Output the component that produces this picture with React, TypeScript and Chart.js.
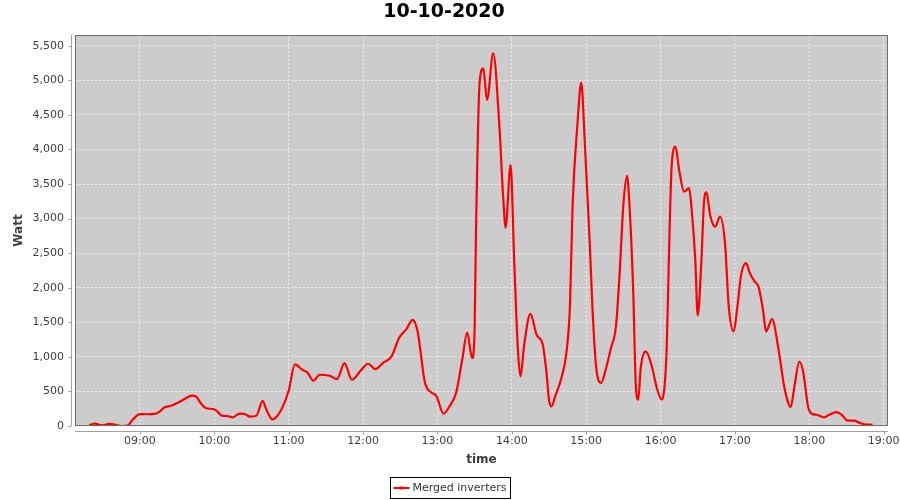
import React, { useEffect, useRef } from "react";
import { Chart, registerables } from "chart.js";

Chart.register(...registerables);

const chartTitle = "10-10-2020";
const seriesLabel = "Merged inverters";
const xAxisTitle = "time";
const yAxisTitle = "Watt";

const times = [
  "08:19", "08:24", "08:29", "08:35", "08:41", "08:45", "08:50", "08:54", "09:00", "09:05",
  "09:12", "09:16", "09:20", "09:25", "09:31", "09:36", "09:42", "09:45", "09:49", "09:53",
  "09:59", "10:02", "10:06", "10:10", "10:15", "10:20", "10:24", "10:29", "10:34", "10:39",
  "10:42", "10:47", "10:50", "10:54", "11:00", "11:05", "11:11", "11:15", "11:20", "11:25",
  "11:33", "11:39", "11:45", "11:51", "11:58", "12:04", "12:10", "12:16", "12:23", "12:29",
  "12:35", "12:40", "12:44", "12:50", "12:55", "12:59", "13:05", "13:10", "13:15", "13:20",
  "13:24", "13:28", "13:30", "13:31", "13:34", "13:37", "13:40", "13:45", "13:50", "13:53",
  "13:55", "13:59", "14:02", "14:05", "14:07", "14:10", "14:15", "14:20", "14:25", "14:28",
  "14:30", "14:32", "14:35", "14:40", "14:44", "14:47", "14:49", "14:53", "14:56", "14:59",
  "15:03", "15:05", "15:08", "15:12", "15:15", "15:20", "15:24", "15:27", "15:30", "15:33",
  "15:35", "15:38", "15:40", "15:42", "15:44", "15:48", "15:53", "15:57", "16:01", "16:05",
  "16:07", "16:09", "16:12", "16:15", "16:19", "16:23", "16:25", "16:28", "16:30", "16:33",
  "16:35", "16:37", "16:40", "16:44", "16:48", "16:52", "16:55", "16:59", "17:02", "17:05",
  "17:09", "17:12", "17:16", "17:19", "17:23", "17:25", "17:30", "17:35", "17:40", "17:45",
  "17:48", "17:52", "17:55", "17:59", "18:02", "18:06", "18:12", "18:16", "18:22", "18:26",
  "18:31", "18:36", "18:41", "18:46", "18:51",
];

const watts = [
  15, 33, 8, 30, 15, 0, 5, 90, 173, 170,
  175, 210, 270, 293, 341, 390, 438, 430, 332, 260,
  245, 220, 149, 145, 125, 178, 175, 135, 150, 365,
  235, 95, 130, 235, 510, 890, 813, 775, 655, 741,
  727, 679, 910, 669, 799, 900, 823, 910, 1006, 1272,
  1401, 1536, 1367, 621, 486, 438, 178, 293, 477, 958,
  1352, 982, 1391, 2700, 4960, 5173, 4715, 5390, 4329, 3318,
  2870, 3776, 2355, 1078, 717, 1175, 1623, 1319, 1175, 766,
  380, 283, 428, 694, 1055, 1777, 3173, 4378, 4965, 4065,
  2595, 1728, 861, 621, 766, 1127, 1439, 2211, 3198, 3617,
  3173, 1922, 597, 380, 838, 1078, 861, 549, 380, 1150,
  2644, 3776, 4040, 3704, 3390, 3439, 3150, 2403, 1600, 2403,
  3222, 3380, 3053, 2880, 3029, 2644, 1728, 1367, 1728, 2186,
  2355, 2211, 2089, 2017, 1633, 1367, 1546, 1127, 549, 275,
  572, 933, 789, 283, 178, 163, 124, 163, 202, 163,
  77, 77, 43, 19, 19,
];

const xTickLabels = ["09:00", "10:00", "11:00", "12:00", "13:00", "14:00", "15:00", "16:00", "17:00", "18:00", "19:00"];
const yTickValues = [0, 500, 1000, 1500, 2000, 2500, 3000, 3500, 4000, 4500, 5000, 5500];

const xMinLabel = "08:07.6";
const xMaxLabel = "19:03.5";
const yMin = 0;
const yMax = 5655;

function toMin(s: string): number {
  const [h, m] = s.split(":");
  return parseInt(h, 10) * 60 + parseFloat(m);
}

function fmtMin(v: number): string {
  const h = Math.floor(v / 60);
  const m = Math.round(v - h * 60);
  return String(h).padStart(2, "0") + ":" + String(m).padStart(2, "0");
}

const FONT = "'DejaVu Sans', sans-serif";

const framePlugin = {
  id: "frame",
  beforeDraw(chart: any) {
    const { ctx, chartArea: a } = chart;
    ctx.save();
    ctx.fillStyle = "#cccccc";
    ctx.fillRect(a.left, a.top, a.right - a.left, a.bottom - a.top);
    ctx.restore();
  },
  afterDatasetsDraw(chart: any) {
    const { ctx, chartArea: a } = chart;
    const xs = chart.scales.x;
    const ys = chart.scales.y;
    ctx.save();
    ctx.strokeStyle = "#6e6e6e";
    ctx.lineWidth = 1;
    ctx.strokeRect(Math.round(a.left) + 0.5, Math.round(a.top) + 0.5, Math.round(a.right - a.left) - 1, Math.round(a.bottom - a.top) - 1);
    ctx.strokeStyle = "#a0a0a0";
    const yAxisX = Math.round(a.left) - 4 + 0.5;
    const xAxisY = Math.round(a.bottom) + 5 + 0.5;
    ctx.beginPath();
    ctx.moveTo(yAxisX, a.top);
    ctx.lineTo(yAxisX, a.bottom);
    ctx.moveTo(a.left, xAxisY);
    ctx.lineTo(a.right, xAxisY);
    ys.ticks.forEach((t: any) => {
      const py = Math.round(ys.getPixelForValue(t.value)) + 0.5;
      ctx.moveTo(yAxisX - 3, py);
      ctx.lineTo(yAxisX, py);
    });
    xs.ticks.forEach((t: any) => {
      const px = Math.round(xs.getPixelForValue(t.value)) + 0.5;
      ctx.moveTo(px, xAxisY);
      ctx.lineTo(px, xAxisY + 3);
    });
    ctx.stroke();
    ctx.restore();
  },
  afterDraw(chart: any) {
    const { ctx, width } = chart;
    const ds = chart.data.datasets[0];
    ctx.save();
    ctx.font = "11px " + FONT;
    const tw = ctx.measureText(ds.label).width;
    const boxW = Math.round(3 + 16 + 3 + tw + 4);
    const boxH = 21;
    const left = Math.round(width / 2 - boxW / 2) + 0.5;
    const top = 477.5;
    ctx.strokeStyle = "#000000";
    ctx.lineWidth = 1;
    ctx.strokeRect(left, top, boxW, boxH);
    const cy = top + boxH / 2;
    ctx.strokeStyle = ds.borderColor;
    ctx.lineWidth = 2;
    ctx.beginPath();
    ctx.moveTo(left + 3, cy);
    ctx.lineTo(left + 19, cy);
    ctx.stroke();
    ctx.fillStyle = ds.borderColor;
    ctx.fillRect(left + 9.5, cy - 1.5, 3, 3);
    ctx.fillStyle = "#333333";
    ctx.textBaseline = "middle";
    ctx.textAlign = "left";
    ctx.fillText(ds.label, left + 22, cy + 0.5);
    ctx.restore();
  },
};

export default function App() {
  const canvasRef = useRef<HTMLCanvasElement | null>(null);

  useEffect(() => {
    document.body.style.margin = "0";
    const canvas = canvasRef.current;
    if (!canvas) return;
    Chart.defaults.font.family = FONT;
    const points = times.map((t, i) => ({ x: toMin(t), y: watts[i] }));
    const chart = new Chart(canvas, {
      type: "line",
      data: {
        datasets: [
          {
            label: seriesLabel,
            data: points,
            borderColor: "#ff0000",
            backgroundColor: "#ff0000",
            borderWidth: 2.2,
            pointRadius: 0,
            fill: false,
            tension: 0.4,
            cubicInterpolationMode: "monotone",
          },
        ],
      },
      options: {
        animation: false,
        responsive: false,
        maintainAspectRatio: false,
        layout: { padding: { left: 0, right: 12, top: 0, bottom: 30 } },
        plugins: {
          legend: { display: false },
          tooltip: { enabled: false },
          title: {
            display: true,
            text: chartTitle,
            color: "#000000",
            font: { size: 19, weight: "bold", family: FONT },
            padding: { top: 0.8, bottom: 11.4 },
          },
        },
        scales: {
          x: {
            type: "linear",
            min: toMin(xMinLabel),
            max: toMin(xMaxLabel),
            afterBuildTicks: (s: any) => {
              s.ticks = xTickLabels.map((l) => ({ value: toMin(l) }));
            },
            afterFit: (s: any) => {
              s.height = 44;
              s.paddingLeft = 0;
              s.paddingRight = 0;
            },
            grid: { color: "#ececec", lineWidth: 1, drawTicks: false },
            border: { display: false, dash: [2, 2] },
            ticks: {
              color: "#404040",
              font: { size: 11, family: FONT },
              padding: 9,
              maxRotation: 0,
              autoSkip: false,
              callback: (v: any) => fmtMin(Number(v)),
            },
            title: {
              display: true,
              text: xAxisTitle,
              color: "#404040",
              font: { size: 12, weight: "bold", family: FONT },
              padding: { top: 0, bottom: 2.8 },
            },
          },
          y: {
            type: "linear",
            min: yMin,
            max: yMax,
            afterBuildTicks: (s: any) => {
              s.ticks = yTickValues.map((v) => ({ value: v }));
            },
            afterFit: (s: any) => {
              s.width = 75;
              s.paddingTop = 0;
              s.paddingBottom = 0;
            },
            grid: { color: "#ececec", lineWidth: 1, drawTicks: false },
            border: { display: false, dash: [2, 2] },
            ticks: {
              color: "#404040",
              font: { size: 11, family: FONT },
              padding: 11,
              autoSkip: false,
              callback: (v: any) => Number(v).toLocaleString("en-US"),
            },
            title: {
              display: true,
              text: yAxisTitle,
              color: "#404040",
              font: { size: 12, weight: "bold", family: FONT },
              padding: { top: 11.8, bottom: 0 },
            },
          },
        },
      },
      plugins: [framePlugin],
    } as any);
    return () => chart.destroy();
  }, []);

  return (
    <div style={{ width: 900, height: 500 }}>
      <canvas ref={canvasRef} width={900} height={500} style={{ display: "block" }} />
    </div>
  );
}
